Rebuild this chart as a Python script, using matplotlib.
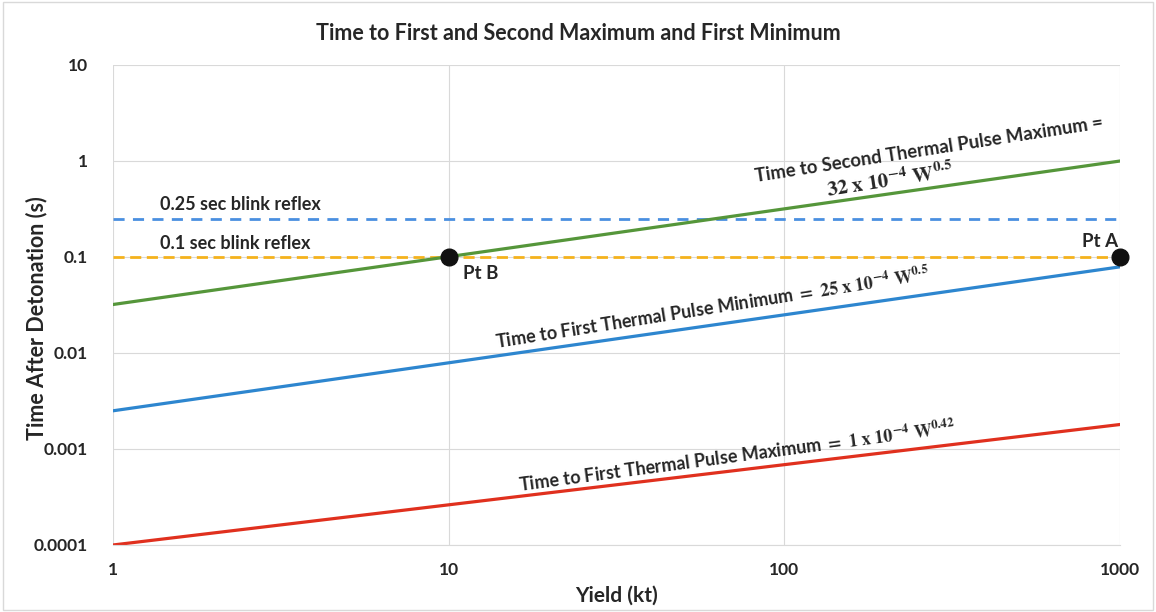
import matplotlib
matplotlib.use("Agg")
import matplotlib.pyplot as plt
import numpy as np

# Data (endpoints of straight lines on log-log axes)
yield_kt = [1, 1000]
second_max = [0.032, 1.0]
first_min = [0.0025, 0.079]
first_max = [0.0001, 0.0018]
blink_025 = [0.25, 0.25]
blink_01 = [0.1, 0.1]
pt_names = ["Pt B", "Pt A"]
pt_x = [10, 1000]
pt_y = [0.1, 0.1]
x_ticks = [1, 10, 100, 1000]
x_ticklabels = ["1", "10", "100", "1000"]
y_ticks = [0.0001, 0.001, 0.01, 0.1, 1, 10]
y_ticklabels = ["0.0001", "0.001", "0.01", "0.1", "1", "10"]

plt.rcParams['font.family'] = ['Lato', 'DejaVu Sans']
plt.rcParams['mathtext.fontset'] = 'stix'

txt = '#262626'
fig = plt.figure(figsize=(11.56, 6.12), dpi=100)
fig.patch.set_facecolor('white')
ax = fig.add_axes([0.0978, 0.1095, 0.8712, 0.7843])
ax.set_xscale('log')
ax.set_yscale('log')
ax.set_xlim(1, 1000)
ax.set_ylim(0.0001, 10)

ax.plot(yield_kt, blink_025, color='#4a8fe0', lw=2, ls=(0, (4, 3)))
ax.plot(yield_kt, blink_01, color='#f5b21c', lw=2, ls=(0, (4, 2)))
ax.plot(yield_kt, second_max, color='#55963a', lw=2.3)
ax.plot(yield_kt, first_min, color='#2d86cf', lw=2.3)
ax.plot(yield_kt, first_max, color='#e0301e', lw=2.3)
ax.plot(pt_x, pt_y, 'o', color='#111111', ms=12, zorder=5, clip_on=False)

ax.set_xticks(x_ticks)
ax.set_xticklabels(x_ticklabels)
ax.set_yticks(y_ticks)
ax.set_yticklabels(y_ticklabels)
ax.minorticks_off()
ax.tick_params(length=0, labelsize=12.5, labelcolor=txt)
for lab in ax.get_xticklabels() + ax.get_yticklabels():
    lab.set_fontweight('bold')
ax.tick_params(axis='x', pad=12)
ax.tick_params(axis='y', pad=18)
ax.grid(True, color='#d9d9d9', lw=0.8)
for s in ['left', 'right', 'top']:
    ax.spines[s].set_visible(False)
ax.spines['bottom'].set_color('#d9d9d9')

ax.set_xlabel('Yield (kt)', fontsize=15, fontweight='bold', color=txt, labelpad=6)
ax.set_ylabel('Time After Detonation (s)', fontsize=15.5, fontweight='bold', color=txt)
ax.yaxis.set_label_coords(-0.065, 0.473)
fig.text(0.5, 0.945, 'Time to First and Second Maximum and First Minimum',
         ha='center', va='center', fontsize=15.5, fontweight='bold', color=txt)

# Annotations
ax.text(1.38, 0.285, '0.25 sec blink reflex', fontsize=13, fontweight='bold', color=txt, va='bottom')
ax.text(1.38, 0.113, '0.1 sec blink reflex', fontsize=13, fontweight='bold', color=txt, va='bottom')
ax.text(11.0, 0.082, 'Pt B', fontsize=13.5, fontweight='bold', color=txt, va='top')
ax.text(985, 0.117, 'Pt A', fontsize=13.5, fontweight='bold', color=txt, ha='right', va='bottom')

ax.text(270, 1.30, 'Time to Second Thermal Pulse Maximum =', fontsize=13.3, fontweight='bold',
        color=txt, ha='center', va='center', rotation=8.8, rotation_mode='anchor')
ax.text(206, 0.64, r'$\mathbf{32\ x\ 10^{-4}\ W^{0.5}}$', fontsize=15,
        color=txt, ha='center', va='center', rotation=8.8, rotation_mode='anchor')
ax.text(61, 0.030, r'Time to First Thermal Pulse Minimum $\mathbf{=\ 25\ x\ 10^{-4}\ W^{0.5}}$',
        fontsize=13, fontweight='bold', color=txt, ha='center', va='center',
        rotation=9.0, rotation_mode='anchor')
ax.text(72, 0.00085, r'Time to First Thermal Pulse Maximum $\mathbf{=\ 1\ x\ 10^{-4}\ W^{0.42}}$',
        fontsize=13, fontweight='bold', color=txt, ha='center', va='center',
        rotation=7.6, rotation_mode='anchor')

# light frame around figure
fig.add_artist(plt.Rectangle((0.003, 0.003), 0.994, 0.994, transform=fig.transFigure,
                             fill=False, ec='#d9d9d9', lw=1))

fig.savefig('out.png', dpi=100, facecolor='white')
